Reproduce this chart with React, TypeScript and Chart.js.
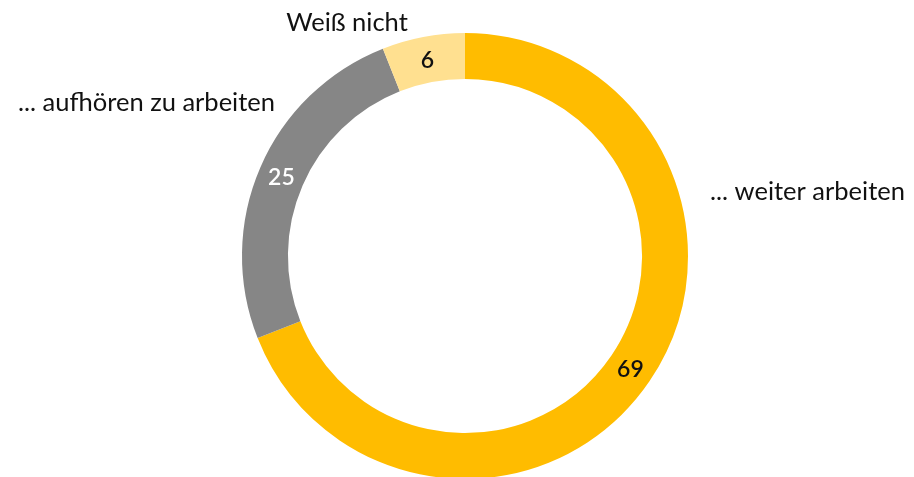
import React, { useEffect, useRef } from "react";
import { Chart, registerables } from "chart.js";

Chart.register(...registerables);

const categories = ["... weiter arbeiten", "... aufhören zu arbeiten", "Weiß nicht"];
const values = [69, 25, 6];
const colors = ["#FFBC00", "#868686", "#FFE090"];
const valueLabelColors = ["#111111", "#FFFFFF", "#111111"];

const FONT = "Lato, 'Open Sans', sans-serif";

const labelsPlugin = {
  id: "customLabels",
  afterDatasetsDraw(chart: any) {
    const ctx = chart.ctx;
    const meta = chart.getDatasetMeta(0);
    ctx.save();
    ctx.textBaseline = "middle";
    meta.data.forEach((arc: any, i: number) => {
      const p = arc.tooltipPosition();
      ctx.font = `600 23px ${FONT}`;
      ctx.fillStyle = valueLabelColors[i];
      ctx.textAlign = "center";
      ctx.fillText(String(values[i]), p.x, p.y + 1);
    });
    const cx = meta.data[0].x;
    const cy = meta.data[0].y;
    const R = meta.data[0].outerRadius;
    ctx.font = `400 25.5px ${FONT}`;
    ctx.fillStyle = "#111111";
    const pos = [
      { x: cx + R + 22, y: cy - 64, align: "left" },
      { x: cx - R + 33, y: cy - 153, align: "right" },
      { x: cx - 118, y: cy - 233, align: "center" },
    ];
    categories.forEach((c, i) => {
      ctx.textAlign = pos[i].align;
      ctx.fillText(c, pos[i].x, pos[i].y);
    });
    ctx.restore();
  },
};

export default function App() {
  const ref = useRef<HTMLCanvasElement | null>(null);
  useEffect(() => {
    document.body.style.margin = "0";
    const chart = new Chart(ref.current!, {
      type: "doughnut",
      data: {
        labels: categories,
        datasets: [
          {
            data: values,
            backgroundColor: colors,
            borderWidth: 0,
          },
        ],
      },
      options: {
        responsive: false,
        animation: false,
        cutout: "79.4%",
        layout: { padding: { top: 33, bottom: 11, left: 242, right: 226 } },
        plugins: {
          legend: { display: false },
          tooltip: { enabled: false },
        },
      },
      plugins: [labelsPlugin],
    });
    return () => chart.destroy();
  }, []);
  return (
    <div style={{ position: "fixed", left: 0, top: 0, width: 914, height: 477, overflow: "hidden", background: "#fff" }}>
      <canvas ref={ref} width={914} height={490} style={{ width: 914, height: 490, display: "block" }} />
    </div>
  );
}
